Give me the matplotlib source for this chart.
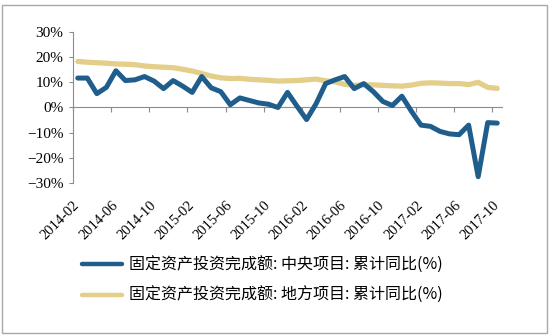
import matplotlib
matplotlib.use("Agg")
import matplotlib.pyplot as plt
from matplotlib.ticker import FuncFormatter
from matplotlib.patches import Rectangle

# months 2014-02 .. 2017-10
months = []
for y in range(2014, 2018):
    for m in range(1, 13):
        if (y == 2014 and m < 2) or (y == 2017 and m > 10):
            continue
        months.append(f"{y}-{m:02d}")

central = [11.7, 11.7, 5.5, 8.0, 14.6, 10.7, 11.0, 12.3, 10.5, 7.5,
           10.7, 8.5, 6.0, 12.3, 7.8, 6.3, 1.1, 3.8, 2.8, 1.8,
           1.3, 0.0, 6.0, 0.5, -4.8, 1.5, 9.5, 11.0, 12.3, 7.5,
           9.5, 6.3, 2.4, 0.8, 4.5, -1.5, -7.0, -7.5, -9.5, -10.5,
           -10.8, -7.0, -27.5, -6.0, -6.2]
local = [18.3, 18.0, 17.8, 17.6, 17.3, 17.2, 17.0, 16.5, 16.2, 16.0,
         15.8, 15.2, 14.5, 13.5, 12.5, 11.8, 11.5, 11.6, 11.2, 11.0,
         10.8, 10.5, 10.6, 10.7, 11.0, 11.3, 10.6, 10.2, 9.2, 8.8,
         9.0, 9.0, 8.8, 8.6, 8.5, 8.9, 9.6, 9.8, 9.7, 9.5,
         9.5, 9.1, 10.0, 8.0, 7.6]

label_central = "固定资产投资完成额: 中央项目: 累计同比(%)"
label_local = "固定资产投资完成额: 地方项目: 累计同比(%)"
yticks = [-30, -20, -10, 0, 10, 20, 30]

c_blue = "#1F5E8C"
c_yellow = "#E3CF8A"

fig = plt.figure(figsize=(5.5, 3.36), dpi=100)
fig.patches.append(Rectangle((2/550, 3/336), 545/550, 328/336, transform=fig.transFigure,
                             fill=False, edgecolor="#A8A8A8", linewidth=1.0))
ax = fig.add_axes([73/550, 1-183/336, 429/550, 151/336])

for s in ["top", "right"]:
    ax.spines[s].set_visible(False)
ax.spines["bottom"].set_position(("data", 0))
ax.spines["bottom"].set_color("#8C8C8C")
ax.spines["left"].set_color("#8C8C8C")

x = list(range(len(months)))
l2, = ax.plot(x, local, color=c_yellow, lw=3.8, solid_capstyle="round",
              solid_joinstyle="round", zorder=2)
l1, = ax.plot(x, central, color=c_blue, lw=3.6, solid_capstyle="round",
              solid_joinstyle="round", zorder=3)

ax.set_xlim(-0.5, len(months) - 0.5)
ax.set_ylim(-30, 30)
ax.set_yticks(yticks)
ax.yaxis.set_major_formatter(FuncFormatter(lambda v, p: f"{int(v)}%".replace("-", "\u2212")))

tick_idx = list(range(0, len(months), 4))
ax.set_xticks([i - 0.5 for i in tick_idx])
ax.set_xticklabels([months[i] for i in tick_idx])
ax.tick_params(axis="x", direction="out", length=3.5, color="#8C8C8C", pad=62)
ax.tick_params(axis="y", direction="out", length=3, color="#8C8C8C", pad=4)
for t in ax.get_xticklabels():
    t.set_rotation(45)
    t.set_ha("right")
    t.set_va("top")
    t.set_rotation_mode("anchor")
    t.set_fontfamily("Liberation Serif")
    t.set_fontsize(10.5)
for t in ax.get_yticklabels():
    t.set_fontfamily("Liberation Serif")
    t.set_fontsize(11)

leg = fig.legend([l1, l2], [label_central, label_local], loc="upper left",
                 bbox_to_anchor=(68/550, 1-242/336), frameon=False,
                 prop={"family": ["Noto Sans CJK SC", "DejaVu Sans"], "size": 11.5},
                 handlelength=2.5, handletextpad=0.4, labelspacing=0.85)
for h in leg.get_lines():
    h.set_linewidth(3.2)

fig.savefig("out.png", dpi=100)
